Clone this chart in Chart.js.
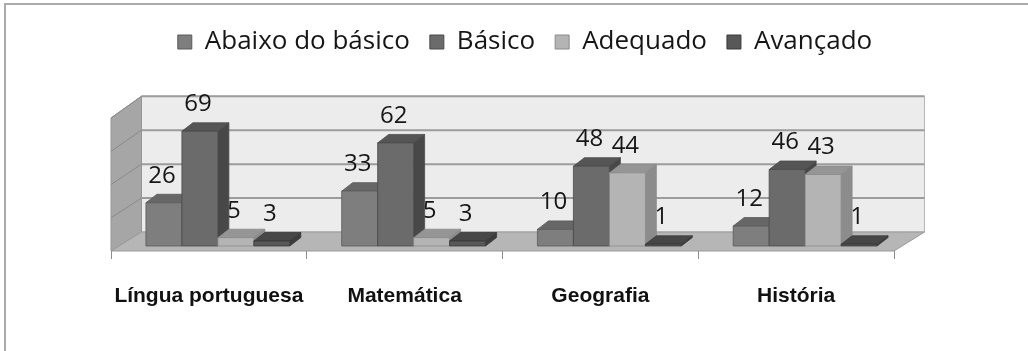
<!DOCTYPE html>
<html>
<head>
<meta charset="utf-8">
<script src="https://cdn.jsdelivr.net/npm/chart.js@4.4.1/dist/chart.umd.min.js"></script>
<style>
  html, body { margin: 0; padding: 0; background: #fff; }
  #wrap { position: relative; width: 1028px; height: 351px; }
</style>
</head>
<body>
<div id="wrap"><canvas id="chart" width="1028" height="351"></canvas></div>
<script>
// Data
const categories = ['Língua portuguesa', 'Matemática', 'Geografia', 'História'];
const seriesNames = ['Abaixo do básico', 'Básico', 'Adequado', 'Avançado'];
const abaixoDoBasico = [26, 33, 10, 12];
const basico = [69, 62, 48, 46];
const adequado = [5, 5, 44, 43];
const avancado = [3, 3, 1, 1];
const gridValues = [20, 40, 60, 80];

// Styles (front / top / side faces of each series)
const frontColors = ['#7e7e7e', '#6b6b6b', '#b4b4b4', '#585858'];
const topColors   = ['#676767', '#555555', '#959595', '#474747'];
const sideColors  = ['#5c5c5c', '#484848', '#8c8c8c', '#3c3c3c'];
const edgeColors  = ['#5a5a5a', '#4a4a4a', '#8a8a8a', '#3a3a3a'];

// depth geometry of the box (walls/floor) and of the bars
const WALL = { dx: 30.5, dy: -19, persp: 0.0206 };
const BAR = { offX: 9, offY: -5, dx: 11, dy: -8.5 };

const seriesData = [abaixoDoBasico, basico, adequado, avancado];

function wallY(yScale, v, t) {
  const y0 = yScale.getPixelForValue(0);
  const y = yScale.getPixelForValue(v);
  return y0 - (y0 - y) * (1 + WALL.persp * t) + WALL.dy * t;
}

function poly(ctx, pts, fill, stroke, lw) {
  ctx.beginPath();
  ctx.moveTo(pts[0][0], pts[0][1]);
  for (let i = 1; i < pts.length; i++) ctx.lineTo(pts[i][0], pts[i][1]);
  ctx.closePath();
  if (fill) { ctx.fillStyle = fill; ctx.fill(); }
  if (stroke) { ctx.strokeStyle = stroke; ctx.lineWidth = lw || 1; ctx.stroke(); }
}

const box3d = {
  id: 'box3d',
  beforeUpdate(chart) {
    const lg = chart.legend;
    if (lg && !lg._tallFit) {
      const fit = lg.fit;
      lg.fit = function () { fit.call(this); this.height = 109; };
      lg._tallFit = true;
    }
  },
  beforeDraw(chart) {
    const ctx = chart.ctx;
    ctx.save();
    ctx.fillStyle = '#ffffff';
    ctx.fillRect(0, 0, chart.width, chart.height);
    ctx.strokeStyle = '#ababab';
    ctx.lineWidth = 2;
    ctx.beginPath();
    ctx.moveTo(5, chart.height);
    ctx.lineTo(5, 4);
    ctx.lineTo(chart.width, 4);
    ctx.stroke();
    ctx.restore();
  },
  beforeDatasetsDraw(chart) {
    const ctx = chart.ctx;
    const ys = chart.scales.y;
    const L = chart.chartArea.left, R = chart.chartArea.right;
    const top = ys.max;
    ctx.save();
    // back wall
    poly(ctx, [[L + WALL.dx, wallY(ys, top, 1)], [R + WALL.dx, wallY(ys, top, 1)],
               [R + WALL.dx, wallY(ys, 0, 1)], [L + WALL.dx, wallY(ys, 0, 1)]], '#ececec', '#b5b5b5', 1);
    // left wall
    poly(ctx, [[L, wallY(ys, 0, 0)], [L, wallY(ys, top, 0)],
               [L + WALL.dx, wallY(ys, top, 1)], [L + WALL.dx, wallY(ys, 0, 1)]], '#a6a6a6', '#959595', 1);
    // grid lines on back and left walls
    gridValues.forEach(v => {
      ctx.strokeStyle = '#9c9c9c';
      ctx.lineWidth = 2;
      ctx.beginPath();
      ctx.moveTo(L + WALL.dx, wallY(ys, v, 1));
      ctx.lineTo(R + WALL.dx, wallY(ys, v, 1));
      ctx.stroke();
      ctx.strokeStyle = '#8a8a8a';
      ctx.lineWidth = 1;
      ctx.beginPath();
      ctx.moveTo(L, wallY(ys, v, 0));
      ctx.lineTo(L + WALL.dx, wallY(ys, v, 1));
      ctx.stroke();
    });
    // floor
    poly(ctx, [[L, wallY(ys, 0, 0)], [R, wallY(ys, 0, 0)],
               [R + WALL.dx, wallY(ys, 0, 1)], [L + WALL.dx, wallY(ys, 0, 1)]], '#b6b6b6', '#9a9a9a', 1);
    ctx.restore();
  },
  beforeDatasetDraw() {
    return false;
  },
  afterDatasetsDraw(chart) {
    const ctx = chart.ctx;
    ctx.save();
    const metas = seriesData.map((_, d) => chart.getDatasetMeta(d));
    // value labels (sit behind the bars)
    ctx.font = '24px "Open Sans"';
    ctx.fillStyle = '#161616';
    ctx.textAlign = 'center';
    ctx.textBaseline = 'middle';
    metas.forEach((meta, d) => {
      meta.data.forEach((el, c) => {
        const w = el.width;
        const xL = el.x - w / 2 + BAR.offX;
        const yT = el.y + BAR.offY;
        ctx.fillText(String(seriesData[d][c]), xL + w / 2 - 2, yT - 27);
      });
    });
    // 3D bars, left to right
    categories.forEach((_, c) => {
      metas.forEach((meta, d) => {
        const el = meta.data[c];
        const w = el.width;
        const xL = el.x - w / 2 + BAR.offX;
        const xR = xL + w;
        const yT = el.y + BAR.offY;
        const yB = el.base + BAR.offY;
        poly(ctx, [[xR, yT], [xR + BAR.dx, yT + BAR.dy], [xR + BAR.dx, yB + BAR.dy], [xR, yB]],
             sideColors[d], edgeColors[d], 0.8);
        poly(ctx, [[xL, yT], [xR, yT], [xR + BAR.dx, yT + BAR.dy], [xL + BAR.dx, yT + BAR.dy]],
             topColors[d], edgeColors[d], 0.8);
        poly(ctx, [[xL, yT], [xR, yT], [xR, yB], [xL, yB]],
             frontColors[d], edgeColors[d], 0.8);
      });
    });
    ctx.restore();
  }
};

function draw() {
  new Chart(document.getElementById('chart'), {
    type: 'bar',
    data: {
      labels: categories,
      datasets: seriesNames.map((name, i) => ({
        label: name,
        data: seriesData[i],
        backgroundColor: frontColors[i],
        borderColor: edgeColors[i],
        borderWidth: 1
      }))
    },
    plugins: [box3d],
    options: {
      responsive: false,
      animation: false,
      events: [],
      layout: { padding: { top: 9, left: 22, right: 0, bottom: 0 } },
      datasets: { bar: { categoryPercentage: 0.735, barPercentage: 1 } },
      plugins: {
        legend: {
          position: 'top',
          labels: {
            font: { family: 'Open Sans', size: 26 },
            color: '#161616',
            boxWidth: 14,
            boxHeight: 14,
            padding: 20
          }
        },
        tooltip: { enabled: false }
      },
      scales: {
        x: {
          offset: true,
          grid: { display: true, offset: true, drawOnChartArea: false, drawTicks: true, tickLength: 8, color: '#8c8c8c' },
          border: { display: false },
          ticks: { font: { family: 'Liberation Sans', size: 21, weight: 'bold' }, color: '#111', padding: 25 },
          afterFit(s) { s.height = 100; }
        },
        y: {
          min: 0, max: 80,
          ticks: { display: false, stepSize: 20 },
          grid: { display: false },
          border: { display: false },
          afterFit(s) { s.width = 89; }
        },
        yRight: {
          position: 'right',
          min: 0, max: 80,
          ticks: { display: false },
          grid: { display: false },
          border: { display: false },
          afterFit(s) { s.width = 134; }
        }
      }
    }
  });
}

Promise.all([
  document.fonts.load('26px "Open Sans"'),
  document.fonts.load('bold 21px "Liberation Sans"')
]).then(draw, draw);
</script>
</body>
</html>
